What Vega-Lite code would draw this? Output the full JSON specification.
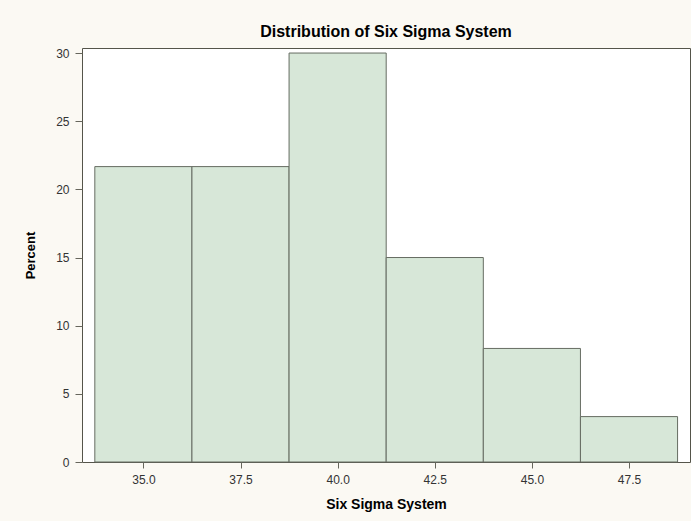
{
  "$schema": "https://vega.github.io/schema/vega-lite/v6.json",
  "width": 608,
  "height": 414,
  "autosize": "none",
  "padding": {"left": 82, "top": 48, "right": 1, "bottom": 59},
  "background": "#FBF9F3",
  "title": {
    "text": "Distribution of Six Sigma System",
    "font": "Liberation Sans",
    "fontSize": 16,
    "fontWeight": "bold",
    "color": "#000000",
    "anchor": "middle",
    "offset": 7
  },
  "view": {"fill": "#FFFFFF", "stroke": "#55554A", "strokeWidth": 1},
  "data": {
    "values": [
      {"lo": 33.75, "hi": 36.25, "percent": 21.67},
      {"lo": 36.25, "hi": 38.75, "percent": 21.67},
      {"lo": 38.75, "hi": 41.25, "percent": 30.0},
      {"lo": 41.25, "hi": 43.75, "percent": 15.0},
      {"lo": 43.75, "hi": 46.25, "percent": 8.33},
      {"lo": 46.25, "hi": 48.75, "percent": 3.33}
    ]
  },
  "mark": {"type": "rect", "fill": "#D7E7D8", "stroke": "#666C62", "strokeWidth": 1},
  "encoding": {
    "x": {
      "field": "lo",
      "type": "quantitative",
      "scale": {"domain": [33.42, 49.07], "nice": false, "zero": false},
      "axis": {
        "values": [35, 37.5, 40, 42.5, 45, 47.5],
        "format": ".1f",
        "title": "Six Sigma System",
        "grid": false,
        "domain": false,
        "tickSize": 6,
        "tickColor": "#66665C",
        "labelFont": "Liberation Sans",
        "labelFontSize": 12,
        "labelColor": "#333333",
        "labelPadding": 6,
        "titleFont": "Liberation Sans",
        "titleFontSize": 14,
        "titleFontWeight": "bold",
        "titleColor": "#000000",
        "titlePadding": 12
      }
    },
    "x2": {"field": "hi"},
    "y": {
      "field": "percent",
      "type": "quantitative",
      "scale": {"domain": [0, 30.37], "nice": false},
      "axis": {
        "values": [0, 5, 10, 15, 20, 25, 30],
        "title": "Percent",
        "grid": false,
        "domain": false,
        "tickSize": 7,
        "tickColor": "#66665C",
        "labelFont": "Liberation Sans",
        "labelFontSize": 12,
        "labelColor": "#333333",
        "labelPadding": 6,
        "titleFont": "Liberation Sans",
        "titleFontSize": 13,
        "titleFontWeight": "bold",
        "titleColor": "#000000",
        "titlePadding": 18
      }
    },
    "y2": {"datum": 0}
  }
}
